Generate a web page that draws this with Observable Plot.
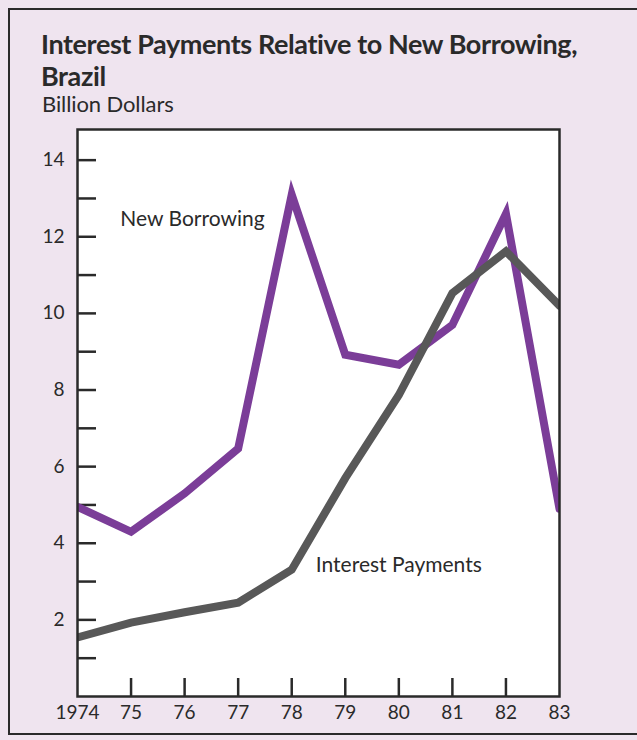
<!DOCTYPE html>
<html>
<head>
<meta charset="utf-8">
<script src="https://cdn.jsdelivr.net/npm/d3@7"></script>
<script src="https://cdn.jsdelivr.net/npm/@observablehq/plot@0.6"></script>
<style>
  html, body { margin: 0; padding: 0; }
  body { width: 637px; height: 740px; background: #efe4ef; position: relative; overflow: hidden; font-family: Lato, "Open Sans", sans-serif; color: #2a2a2a; }
  #border { position: absolute; left: 8px; top: 8px; width: 640px; height: 727px; border-left: 2.5px solid #2a2a2a; border-top: 2.5px solid #2a2a2a; border-bottom: 2.5px solid #2a2a2a; box-sizing: border-box; }
  #header { position: relative; height: 120px; }
  .title { position: absolute; left: 41px; font-weight: 700; font-size: 27px; line-height: 28px; letter-spacing: -0.4px; white-space: nowrap; }
  #t1 { top: 30px; }
  #t2 { top: 62px; }
  #subtitle { position: absolute; left: 42px; top: 92px; font-size: 22px; line-height: 24px; letter-spacing: -0.1px; white-space: nowrap; }
  #chart { position: relative; }
</style>
</head>
<body>
<div id="border"></div>
<div id="header">
  <div class="title" id="t1">Interest Payments Relative to New Borrowing,</div>
  <div class="title" id="t2">Brazil</div>
  <div id="subtitle">Billion Dollars</div>
</div>
<div id="chart"></div>
<script>
const years = [1974, 1975, 1976, 1977, 1978, 1979, 1980, 1981, 1982, 1983];
const newBorrowing = [4.95, 4.3, 5.3, 6.47, 13.1, 8.92, 8.66, 9.7, 12.6, 4.9];
const interestPayments = [1.54, 1.93, 2.2, 2.45, 3.31, 5.7, 7.87, 10.53, 11.62, 10.2];
const yTickValues = [1, 2, 3, 4, 5, 6, 7, 8, 9, 10, 11, 12, 13, 14];
const yLabelValues = [2, 4, 6, 8, 10, 12, 14];
const xTickMarks = [1975, 1976, 1977, 1978, 1979, 1980, 1981, 1982];
const xTickLabels = ["1974", "75", "76", "77", "78", "79", "80", "81", "82", "83"];
const seriesNames = ["New Borrowing", "Interest Payments"];
const seriesColors = ["#7b3d98", "#585858"];
const labelYears = [1974.8, 1978.45];
const labelValues = [12.45, 3.42];

const rows = [];
years.forEach((yr, i) => {
  rows.push({year: yr, value: newBorrowing[i], series: seriesNames[0]});
  rows.push({year: yr, value: interestPayments[i], series: seriesNames[1]});
});
const labels = seriesNames.map((s, i) => ({name: s, year: labelYears[i], value: labelValues[i]}));

const chart = Plot.plot({
  width: 637,
  height: 620,
  marginLeft: 77,
  marginRight: 78,
  marginTop: 9,
  marginBottom: 44,
  style: {fontFamily: "Lato, 'Open Sans', sans-serif", fontSize: "19px", color: "#2a2a2a", background: "transparent", overflow: "visible"},
  x: {domain: [1974, 1983]},
  y: {domain: [0, 14.8]},
  color: {domain: seriesNames, range: seriesColors},
  marks: [
    Plot.frame({fill: "white"}),
    Plot.axisY({ticks: yTickValues, tickSize: -19, tickFormat: () => "", label: null, strokeWidth: 2.5, stroke: "#2a2a2a"}),
    Plot.axisY({ticks: yLabelValues, tickSize: 0, tickPadding: 13, label: null, fontSize: 19}),
    Plot.axisX({ticks: xTickMarks, tickSize: -18, tickFormat: () => "", label: null, strokeWidth: 2.5, stroke: "#2a2a2a"}),
    Plot.axisX({ticks: years, tickSize: 0, tickPadding: 9, tickFormat: (d) => xTickLabels[years.indexOf(d)], label: null, fontSize: 19}),
    Plot.line(rows, {x: "year", y: "value", z: "series", stroke: "series", strokeWidth: 8, strokeLinejoin: "miter", strokeMiterlimit: 6, clip: true}),
    Plot.text(labels, {x: "year", y: "value", text: "name", textAnchor: "start", fontSize: 21, fill: "#2a2a2a"}),
    Plot.frame({stroke: "#2a2a2a", strokeWidth: 2.5})
  ]
});
document.getElementById("chart").appendChild(chart);
</script>
</body>
</html>
